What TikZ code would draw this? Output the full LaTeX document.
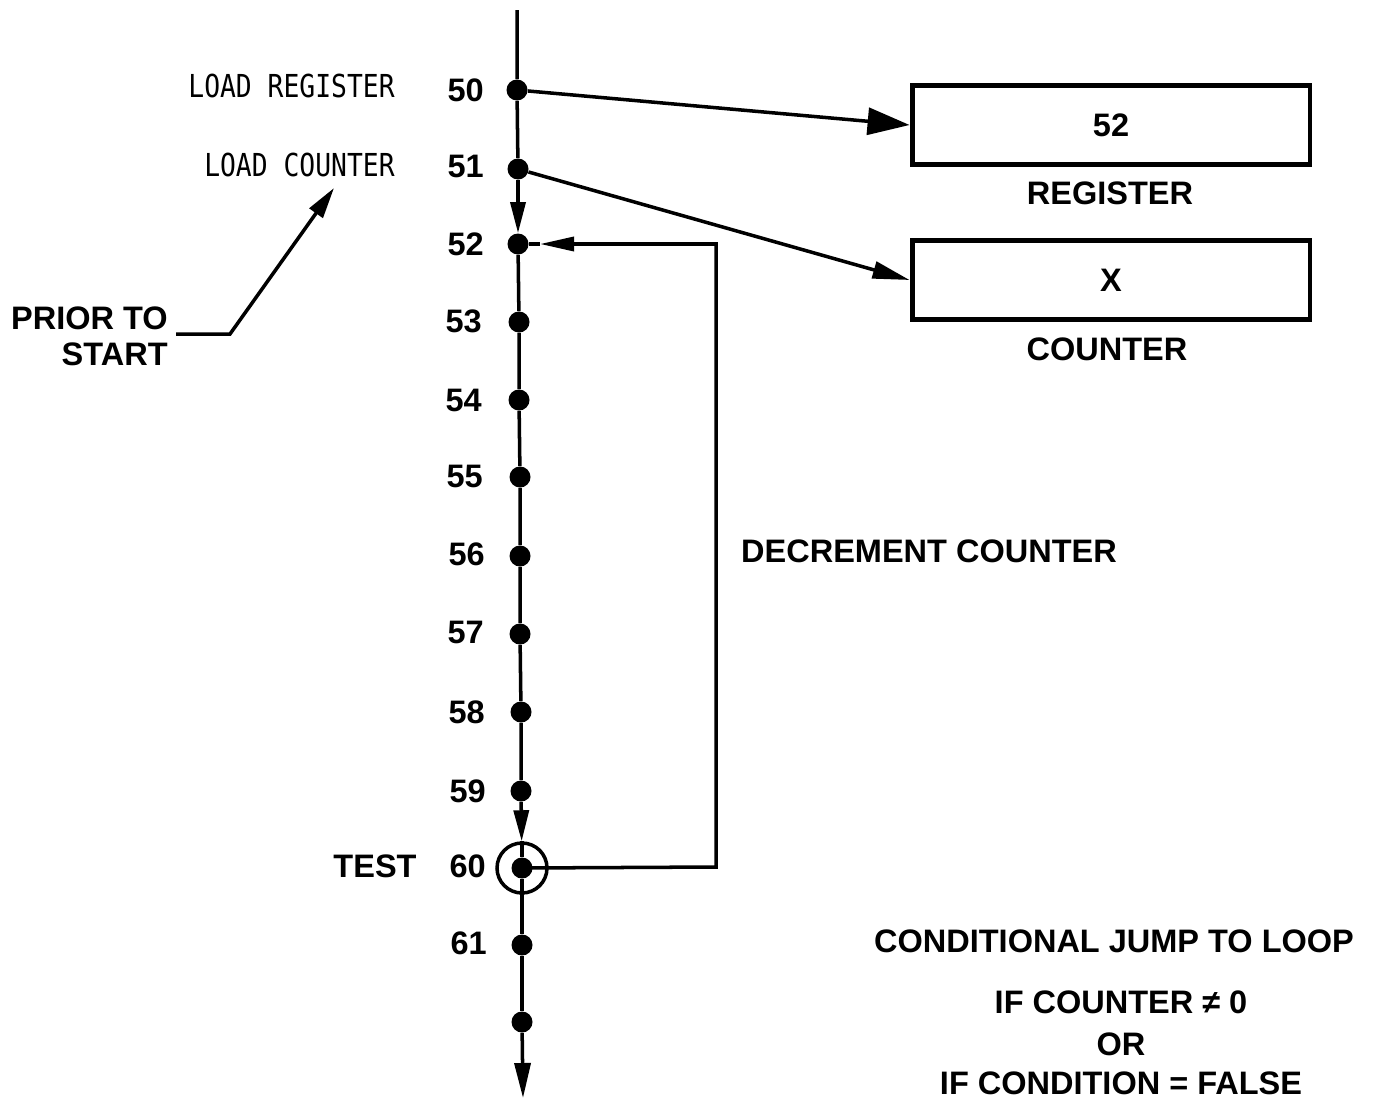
\documentclass[tikz,border=0pt]{standalone}
\usepackage{fontspec}
\usepackage{graphicx}
\setmainfont{Liberation Sans}
\newfontfamily\monof{DejaVu Sans Mono}
\usetikzlibrary{arrows.meta}
\begin{document}
\begin{tikzpicture}[x=0.02cm,y=-0.02cm,
  line/.style={line width=2pt},
  dot/.style={circle,fill=black,inner sep=0pt,minimum size=0.42cm},
  num/.style={font=\fontsize{18.5}{20}\selectfont\bfseries,anchor=east,inner sep=0pt},
  lbl/.style={font=\fontsize{18.5}{20.4}\selectfont\bfseries,inner sep=0pt},
  mono/.style={font=\fontsize{15}{17}\selectfont\monof,anchor=east,inner sep=0pt},
  regbox/.style={draw,line width=2.8pt,minimum width=7.96cm,minimum height=1.58cm,inner sep=0pt,font=\fontsize{18.5}{20}\selectfont\bfseries},
  downtip/.style={-{Triangle[length=0.62cm,width=0.3cm]}},
  bigtip/.style={-{Triangle[length=0.84cm,width=0.54cm]}},
  midtip/.style={-{Triangle[length=0.74cm,width=0.34cm]}},
  looptip/.style={-{Triangle[length=0.68cm,width=0.28cm]}},
  priortip/.style={-{Triangle[length=0.62cm,width=0.32cm]}}
]
\useasboundingbox (0,0) rectangle (1381,1099);

% main line dots
\node[dot] (d50) at (517,90) {};
\node[dot] (d51) at (518,169) {};
\node[dot] (d52) at (518,244) {};
\node[dot] (d53) at (519,322) {};
\node[dot] (d54) at (519,400) {};
\node[dot] (d55) at (520,477) {};
\node[dot] (d56) at (520,556) {};
\node[dot] (d57) at (520,634) {};
\node[dot] (d58) at (521,712) {};
\node[dot] (d59) at (521,791) {};
\node[dot] (d60) at (522,868) {};
\node[dot] (d61) at (522,945) {};
\node[dot] (d62) at (522,1022) {};
\node[circle,draw,line width=2pt,minimum size=1cm,inner sep=0pt] (c60) at (522,868) {};
\coordinate (top) at (517,10);
\coordinate (bot) at (523,1098);

% numbers
\node[num] (n50) at (484,90) {50};
\node[num] (n51) at (484,166) {51};
\node[num] (n52) at (484,244) {52};
\node[num] (n53) at (482,321) {53};
\node[num] (n54) at (482,400) {54};
\node[num] (n55) at (483,476) {55};
\node[num] (n56) at (485,554) {56};
\node[num] (n57) at (484,632) {57};
\node[num] (n58) at (485,712) {58};
\node[num] (n59) at (486,791) {59};
\node[num] (n60) at (486,866) {60};
\node[num] (n61) at (487,943) {61};

% main line
\draw[line] (top) -- (d50) -- (d51);
\draw[line,downtip] (d51) -- (d52);
\draw[line] (d52) -- (d53) -- (d54) -- (d55) -- (d56) -- (d57) -- (d58) -- (d59);
\draw[line,downtip] (d59) -- (c60);
\draw[line] (c60.north) -- (d60) -- (d61) -- (d62);
\draw[line,-{Triangle[length=0.7cm,width=0.32cm]}] (d62) -- (bot);

% boxes
\node[regbox] (reg) at (1111,125) {52};
\node[regbox] (cnt) at (1111,280) {X};
\node[lbl] (regl) at (1110,193) {REGISTER};
\node[lbl] (cntl) at (1107,349) {COUNTER};

\draw[line,bigtip] (d50) -- (reg.west);
\draw[line,midtip] (d51) -- (cnt.west);

% loop
\coordinate (lcorner) at (716,867);
\coordinate (ltip) at (540,244);
\draw[line,looptip] (d60.center) -- (lcorner) |- (ltip);
\draw[line] (ltip) -- (d52);

% left labels
\node[mono] (ldreg) at (395,86) {\scalebox{1}[1.2]{LOAD REGISTER}};
\node[mono] (ldcnt) at (395,165) {\scalebox{1}[1.2]{LOAD COUNTER}};
\node[lbl,align=right,anchor=east] (prior) at (168,336) {PRIOR TO\\START};
\coordinate (pk) at (230,334);
\coordinate (pt) at (334,188);
\draw[line,priortip] ([xshift=0.16cm,yshift=0.04cm]prior.east) -- (pk) -- (pt);
\node[lbl] (test) at (375,866) {TEST};

% right labels
\node[lbl] (dec) at (929,551) {DECREMENT COUNTER};
\node[lbl] (cond) at (1114,941) {CONDITIONAL JUMP TO LOOP};
\node[lbl] (ifc) at (1121,1002) {IF COUNTER \char"2260\ 0};
\node[lbl] (orl) at (1121,1044) {OR};
\node[lbl] (ifd) at (1121,1083) {IF CONDITION = FALSE};
\end{tikzpicture}
\end{document}
